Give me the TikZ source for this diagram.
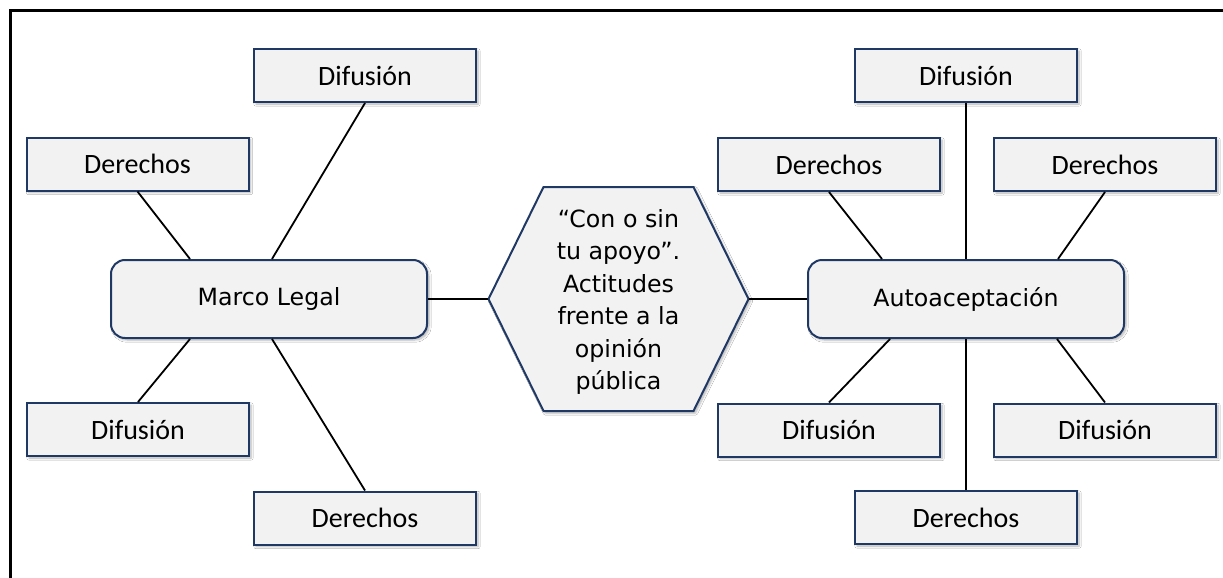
\documentclass[tikz,border=0pt]{standalone}
\usepackage{fontspec}
\setmainfont{DejaVu Sans}
\newfontfamily\boxfont{Carlito}
\usetikzlibrary{shadows.blur}
\definecolor{boxfill}{HTML}{F2F2F2}
\definecolor{boxline}{HTML}{1F3864}
\tikzset{
  myshadow/.style={blur shadow={shadow xshift=2pt,shadow yshift=-2pt,shadow blur steps=6,shadow opacity=30}},
  leaf/.style={draw=boxline, line width=2pt, fill=boxfill, minimum width=222pt, minimum height=53pt,
    inner sep=0pt, font=\boxfont\fontsize{28}{34}\selectfont, myshadow},
  hub/.style={leaf, rounded corners=14pt, minimum width=316pt, minimum height=78pt,
    font=\fontsize{23.7}{30}\selectfont},
  link/.style={line width=1.8pt, black},
}
\begin{document}
\begin{tikzpicture}[x=1pt,y=-1pt]
\useasboundingbox (0,0) rectangle (1223,578);
\clip (0,0) rectangle (1223,578);
\fill[white] (0,0) rectangle (1223,578);
\draw[line width=2.5pt] (10.5,600) -- (10.5,10.5) -- (1240,10.5);

% left cluster
\node[leaf] (difA) at (365,75.5) {Difusión};
\node[leaf] (derA) at (137.5,164) {Derechos};
\node[leaf] (difB) at (138,429.5) {Difusión};
\node[leaf] (derB) at (365,518) {Derechos};
\node[hub] (ml) at (269,299) {Marco Legal};

% hexagon
\path[draw=boxline, line width=2pt, fill=boxfill, myshadow]
  (488.5,299) -- (543.5,187) -- (693.5,187) -- (748.5,299) -- (693.5,411) -- (543.5,411) -- cycle;
\node[inner sep=0pt, minimum width=260pt, minimum height=224pt, align=center,
  font=\fontsize{23.7}{32.5}\selectfont] (hex) at (618.5,302)
  {“Con o sin\\tu apoyo”.\\Actitudes\\frente a la\\opinión\\pública};

% right cluster
\node[leaf] (difC) at (966,75.5) {Difusión};
\node[leaf] (derC) at (829,164.5) {Derechos};
\node[leaf] (derD) at (1105,164.5) {Derechos};
\node[leaf] (difD) at (829,430) {Difusión};
\node[leaf] (difE) at (1105,430) {Difusión};
\node[leaf] (derE) at (966,517.5) {Derechos};
\node[hub] (aa) at (966,299) {Autoaceptación};

% connectors
\draw[link] (ml.east) -- (ml.east -| hex.west);
\draw[link] (aa.west -| hex.east) -- (aa.west);
\draw[link] (derA.south) -- ([xshift=80pt]ml.north west);
\draw[link] (difA.south) -- ([xshift=162pt]ml.north west);
\draw[link] (difB.north) -- ([xshift=80pt]ml.south west);
\draw[link] (derB.north) -- ([xshift=162pt]ml.south west);
\draw[link] (difC.south) -- (aa.north);
\draw[link] (aa.south) -- (derE.north);
\draw[link] (derC.south) -- ([xshift=75pt]aa.north west);
\draw[link] (derD.south) -- ([xshift=-67pt]aa.north east);
\draw[link] (difD.north) -- ([xshift=83pt]aa.south west);
\draw[link] (difE.north) -- ([xshift=-68pt]aa.south east);
\end{tikzpicture}
\end{document}
